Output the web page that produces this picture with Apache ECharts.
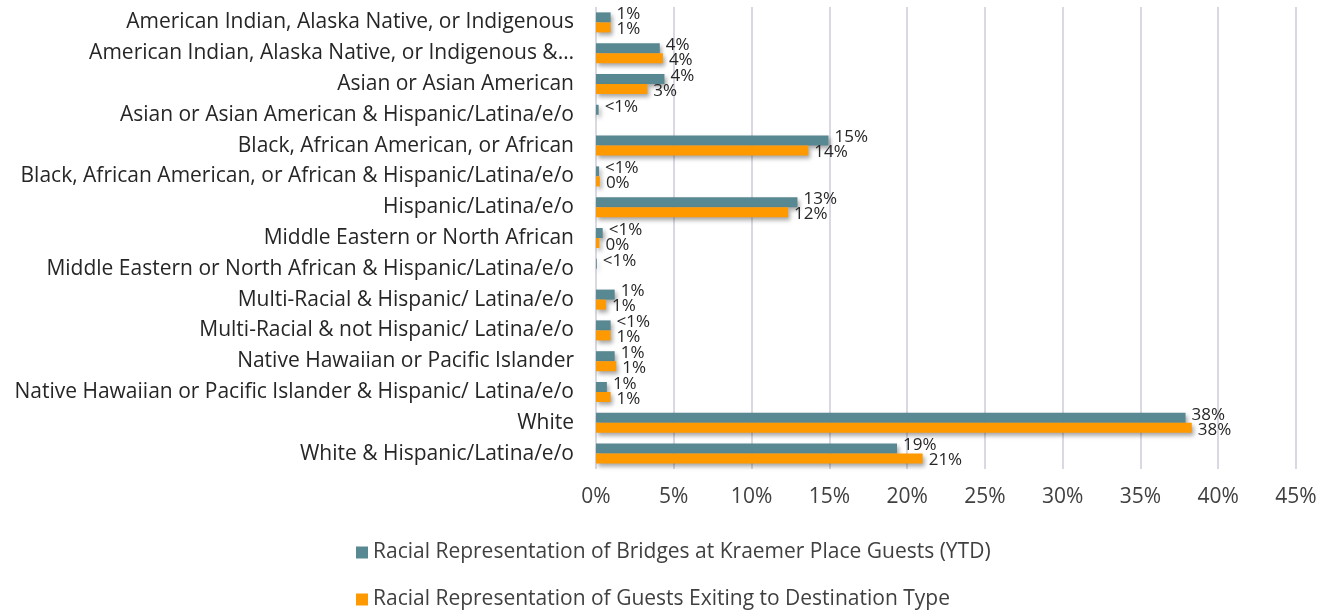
<!DOCTYPE html>
<html>
<head>
<meta charset="utf-8">
<script src="https://cdn.jsdelivr.net/npm/echarts@6/dist/echarts.min.js"></script>
<style>
html, body { margin: 0; padding: 0; background: #fff; }
#main { width: 1323px; height: 610px; }
</style>
</head>
<body>
<div id="main"></div>
<script>
// categories, top to bottom
var categories = [
    'American Indian, Alaska Native, or Indigenous',
    'American Indian, Alaska Native, or Indigenous &\u2026',
    'Asian or Asian American',
    'Asian or Asian American & Hispanic/Latina/e/o',
    'Black, African American, or African',
    'Black, African American, or African & Hispanic/Latina/e/o',
    'Hispanic/Latina/e/o',
    'Middle Eastern or North African',
    'Middle Eastern or North African & Hispanic/Latina/e/o',
    'Multi-Racial & Hispanic/ Latina/e/o',
    'Multi-Racial & not Hispanic/ Latina/e/o',
    'Native Hawaiian or Pacific Islander',
    'Native Hawaiian or Pacific Islander & Hispanic/ Latina/e/o',
    'White',
    'White & Hispanic/Latina/e/o'
];
// percent values
var guestsYtd = [0.94, 4.1, 4.4, 0.17, 14.95, 0.2, 12.95, 0.43, 0.05, 1.2, 0.94, 1.2, 0.7, 37.9, 19.35];
var guestsExiting = [0.94, 4.3, 3.3, 0, 13.65, 0.25, 12.35, 0.22, 0, 0.64, 0.94, 1.3, 0.94, 38.3, 21.0];
// data label texts as shown
var ytdLabels = ['1%', '4%', '4%', '<1%', '15%', '<1%', '13%', '<1%', '<1%', '1%', '<1%', '1%', '1%', '38%', '19%'];
var exitLabels = ['1%', '4%', '3%', '', '14%', '0%', '12%', '0%', '', '1%', '1%', '1%', '1%', '38%', '21%'];
var xTicks = [0, 5, 10, 15, 20, 25, 30, 35, 40, 45];

var chart = echarts.init(document.getElementById('main'));
var fontFam = '"Open Sans", sans-serif';
var barShadow = {
    shadowColor: 'rgba(0,0,0,0.35)',
    shadowBlur: 4,
    shadowOffsetX: 2,
    shadowOffsetY: 3
};

var option = {
    animation: false,
    textStyle: { fontFamily: fontFam },
    grid: { left: 596, right: 27, top: 7, bottom: 141, containLabel: false },
    legend: {
        orient: 'vertical',
        left: 356,
        top: 542,
        height: 70,
        padding: 0,
        itemGap: 26,
        itemWidth: 12,
        itemHeight: 12,
        icon: 'rect',
        textStyle: { fontSize: 21, color: '#404040', fontFamily: fontFam },
        data: ['Racial Representation of Bridges at Kraemer Place Guests (YTD)',
               'Racial Representation of Guests Exiting to Destination Type']
    },
    xAxis: {
        type: 'value',
        min: xTicks[0],
        max: xTicks[xTicks.length - 1],
        interval: 5,
        axisLine: { show: false },
        axisTick: { show: false },
        splitLine: { lineStyle: { color: '#d9d9e3', width: 2 } },
        axisLabel: {
            margin: 18,
            fontSize: 21,
            color: '#404040',
            formatter: '{value}%'
        }
    },
    yAxis: {
        type: 'category',
        inverse: true,
        data: categories,
        axisLine: { show: false },
        axisTick: { show: false },
        axisLabel: { fontSize: 21, color: '#262626', margin: 22 }
    },
    series: [
        {
            name: 'Racial Representation of Bridges at Kraemer Place Guests (YTD)',
            type: 'bar',
            data: guestsYtd,
            barGap: '0%',
            barCategoryGap: '35%',
            itemStyle: Object.assign({ color: '#588891' }, barShadow),
            label: {
                show: true,
                position: 'right',
                distance: 6,
                offset: [0, -3],
                fontSize: 17,
                color: '#262626',
                formatter: function (p) { return ytdLabels[p.dataIndex]; }
            }
        },
        {
            name: 'Racial Representation of Guests Exiting to Destination Type',
            type: 'bar',
            data: guestsExiting,
            barGap: '0%',
            barCategoryGap: '35%',
            itemStyle: Object.assign({ color: '#ff9900' }, barShadow),
            label: {
                show: true,
                position: 'right',
                distance: 6,
                offset: [0, 2],
                fontSize: 17,
                color: '#262626',
                formatter: function (p) { return exitLabels[p.dataIndex]; }
            }
        }
    ]
};
chart.setOption(option);
</script>
</body>
</html>
